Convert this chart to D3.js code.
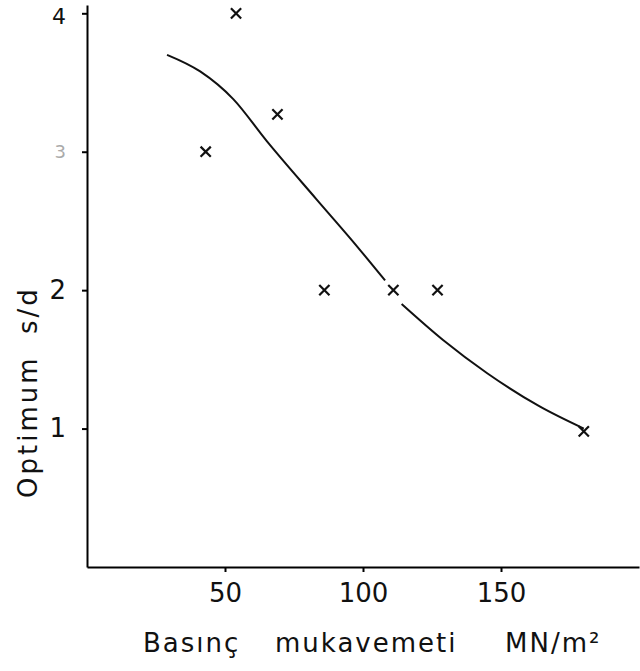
<!DOCTYPE html>
<html>
<head>
    <script src="https://d3js.org/d3.v7.min.js"></script>
    <meta charset="utf-8">
    <style>
        body { margin: 0; background: #fff; }
        text { font-family: "DejaVu Sans", sans-serif; fill: #111; }
    </style>
</head>
<body>
    <div id="my_dataviz"></div>
    <script>
        // measured points (x)
        var strength = [43, 54, 69, 86, 111, 127, 180];
        var sdRatio = [3.0, 4.0, 3.27, 2.0, 2.0, 2.0, 0.98];

        // fitted curve, drawn in two pieces (gap near 110)
        var curveX1 = [29, 41, 53, 65, 83, 96, 108];
        var curveY1 = [3.70, 3.58, 3.38, 3.08, 2.66, 2.36, 2.07];
        var curveX2 = [114, 129, 145, 164, 180];
        var curveY2 = [1.90, 1.64, 1.40, 1.16, 1.00];

        var xTicks = [50, 100, 150];
        var yTicks = [1, 2, 3, 4];

        var width = 640;
        var height = 671;

        var svg = d3.select("#my_dataviz")
            .append("svg")
            .attr("width", width)
            .attr("height", height);

        var x = d3.scaleLinear().domain([0, 200]).range([87, 639]);
        var y = d3.scaleLinear().domain([0, 4.06]).range([567, 5]);

        // axes
        var xAxis = svg.append("g")
            .attr("transform", "translate(0," + y(0) + ")")
            .call(d3.axisBottom(x).tickValues(xTicks).tickSize(5).tickSizeOuter(0).tickPadding(12));
        xAxis.select(".domain").attr("stroke-width", 2);
        xAxis.selectAll(".tick line").attr("stroke-width", 2);
        xAxis.selectAll("text").style("font-size", "26px").style("fill", "#111");

        var yAxis = svg.append("g")
            .attr("transform", "translate(" + x(0) + ",0)")
            .call(d3.axisLeft(y).tickValues(yTicks).tickFormat(d3.format("d"))
                .tickSize(5).tickSizeOuter(0).tickPadding(16));
        yAxis.select(".domain").attr("stroke-width", 2);
        yAxis.selectAll(".tick line").attr("stroke-width", 2);
        yAxis.selectAll("text").style("font-size", "26px").style("fill", "#111");
        yAxis.selectAll(".tick")
            .filter(function (d) { return d === 3; })
            .select("text").style("fill", "#aaa").style("font-size", "18px");
        yAxis.selectAll(".tick")
            .filter(function (d) { return d === 4; })
            .select("text").style("font-size", "22px").attr("dy", "0.45em");

        // curve
        var line = d3.line()
            .x(function (d) { return x(d[0]); })
            .y(function (d) { return y(d[1]); })
            .curve(d3.curveMonotoneX);

        [[curveX1, curveY1], [curveX2, curveY2]].forEach(function (c) {
            svg.append("path")
                .datum(c[0].map(function (v, i) { return [v, c[1][i]]; }))
                .attr("d", line)
                .attr("fill", "none")
                .attr("stroke", "#111")
                .attr("stroke-width", 2);
        });

        // markers
        svg.append("g")
            .selectAll("path")
            .data(strength)
            .enter()
            .append("path")
            .attr("transform", function (d, i) {
                return "translate(" + x(d) + "," + y(sdRatio[i]) + ")";
            })
            .attr("d", d3.symbol().type(d3.symbolTimes).size(70))
            .attr("fill", "none")
            .attr("stroke", "#111")
            .attr("stroke-width", 2.2);

        // axis titles
        var xTitle = svg.append("text")
            .attr("y", 652)
            .style("font-size", "26px")
            .style("letter-spacing", "2px");
        xTitle.append("tspan").attr("x", 143).text("Basınç");
        xTitle.append("tspan").attr("x", 275).text("mukavemeti");
        xTitle.append("tspan").attr("x", 505).text("MN/m²");

        var yTitle = svg.append("text")
            .attr("transform", "translate(37,0) rotate(-90)")
            .style("font-size", "26px")
            .style("letter-spacing", "3px");
        yTitle.append("tspan").attr("x", -498).text("Optimum");
        yTitle.append("tspan").attr("x", -334).text("s/d");
    </script>
</body>
</html>
